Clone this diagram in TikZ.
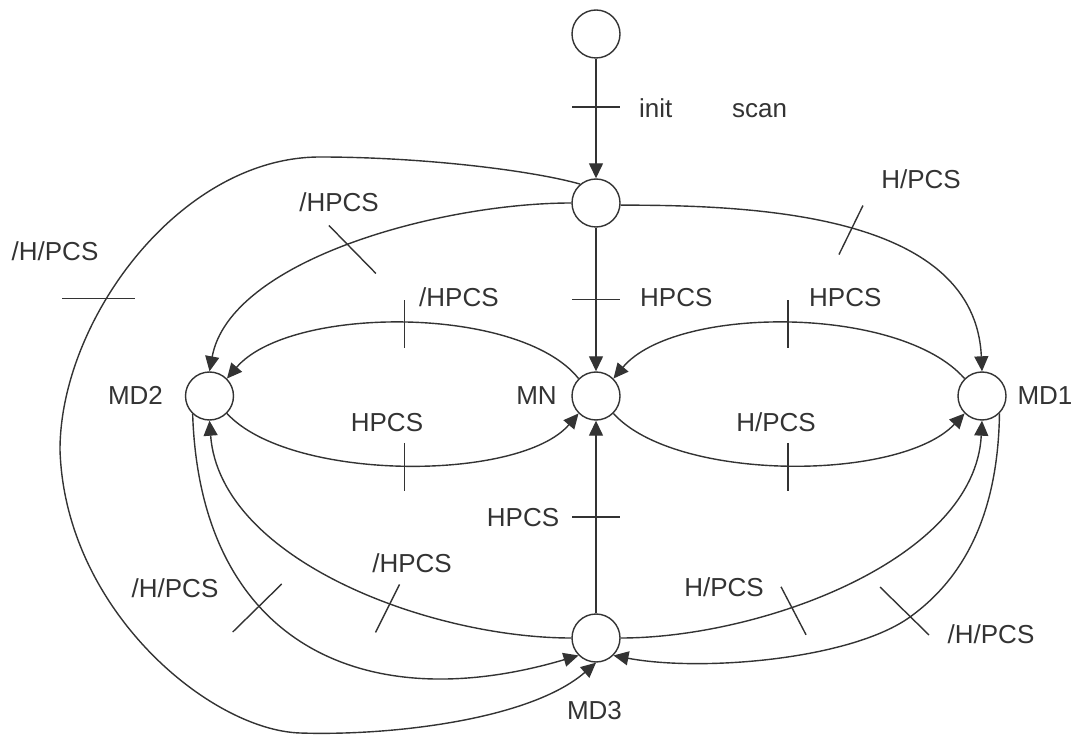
\documentclass[tikz,border=0pt]{standalone}
\usepackage{fontspec}
\setmainfont{Liberation Sans}
\usetikzlibrary{arrows.meta}
\definecolor{ink}{RGB}{51,51,51}
\newcommand\mytick[3]{\draw[tickline] ([shift={#2}]#1) -- ([shift={#3}]#1);}
\begin{document}
\begin{tikzpicture}[x=1pt,y=-1pt,
  st/.style={circle,draw=ink,line width=1.4pt,minimum size=48pt,inner sep=0pt},
  edge/.style={draw=ink,line width=1.4pt,-{Triangle[length=15pt,width=14pt]}},
  tickline/.style={draw=ink,line width=1.4pt},
  lbl/.style={inner sep=0pt,text=ink,font=\fontsize{26}{30}\selectfont,anchor=base},
]
\useasboundingbox (0,0) rectangle (1074,735);
% states
\node[st] (T) at (596,34) {};
\node[st] (S) at (596,203) {};
\node[st] (MN) at (596,396) {};
\node[st] (MD2) at (209.5,396) {};
\node[st] (MD1) at (982,396) {};
\node[st] (MD3) at (596,638) {};
% straight edges
\draw[edge] (T) -- coordinate[pos=0.405] (t1) (S);
\draw[edge] (S) -- coordinate[pos=0.5] (t2) (MN);
\draw[edge] (MD3) -- coordinate[pos=0.5] (t10) (MN);
% from scan state
\draw[edge] (S.180) .. controls (440,203) and (230,260) .. (MD2.north) coordinate[pos=0.5] (t3);
\draw[edge] (S.-5) .. controls (760,205) and (975,215) .. (MD1.north) coordinate[pos=0.5] (t4);
\draw[edge] (S.130) .. controls (530,170) and (420,157) .. (320,157)
   .. controls (180,157) and (60,320) .. (60,450) coordinate[pos=0.62] (t5)
   .. controls (65,610) and (210,730) .. (300,733)
   .. controls (390,736) and (530,720) .. (MD3.south);
% ellipses
\draw[edge] (MN.135) .. controls (520,305) and (290,305) .. (MD2.45) coordinate[pos=0.5] (t6);
\draw[edge] (MD2.-45) .. controls (290,482) and (520,482) .. (MN.-135) coordinate[pos=0.5] (t7);
\draw[edge] (MD1.135) .. controls (900,305) and (675,305) .. (MN.45) coordinate[pos=0.5] (t8);
\draw[edge] (MN.-45) .. controls (675,482) and (900,482) .. (MD1.-135) coordinate[pos=0.5] (t9);
% lower curves
\draw[edge] (MD3.west) .. controls (430,638) and (220,560) .. (MD2.south) coordinate[pos=0.39] (t11);
\draw[edge] (MD2.-133) .. controls (200,640) and (360,720) .. (MD3.-135) coordinate[pos=0.37] (t12);
\draw[edge] (MD3.east) .. controls (760,638) and (975,560) .. (MD1.south) coordinate[pos=0.37] (t13);
\draw[edge] (MD1.-45) .. controls (998,520) and (960,581) .. (910,617) coordinate (t14)
   .. controls (850,660) and (700,672) .. (MD3.-45);
% ticks
\mytick{t1}{(-24,0)}{(24,0)}
\mytick{t2}{(-24,0)}{(24,0)}
\mytick{t10}{(-24,0)}{(24,0)}
\mytick{t3}{(-20,-20)}{(27,28)}
\mytick{t4}{(12,-24)}{(-12,25)}
\mytick{t5}{(-44,0)}{(29,0)}
\mytick{t6}{(0,-23)}{(0,25)}
\mytick{t7}{(0,-22)}{(0,26)}
\mytick{t8}{(0,-23)}{(0,25)}
\mytick{t9}{(0,-22)}{(0,26)}
\mytick{t11}{(9,-19)}{(-15,29)}
\mytick{t12}{(23,-21)}{(-26,27)}
\mytick{t13}{(-11,-20)}{(14,28)}
\mytick{t14}{(-30,-30)}{(19,18)}
% labels
\node[lbl,anchor=base west] (linit) at (639,117.3) {init};
\node[lbl,anchor=base west] (lscan) at (732,117.3) {scan};
\node[lbl,anchor=base west] (l2) at (640,307) {HPCS};
\node[lbl] (l3) at (339,212) {/HPCS};
\node[lbl] (l4) at (921,189) {H/PCS};
\node[lbl] (l5) at (55,261) {/H/PCS};
\node[lbl,anchor=base west] (l6) at (419,307) {/HPCS};
\node[lbl] (l7) at (387,431) {HPCS};
\node[lbl,anchor=base west] (l8) at (809,307) {HPCS};
\node[lbl] (l9) at (776,431) {H/PCS};
\node[lbl] (l10) at (523,526) {HPCS};
\node[lbl] (l11) at (412,572) {/HPCS};
\node[lbl] (l12) at (175,597) {/H/PCS};
\node[lbl] (l13) at (724,596) {H/PCS};
\node[lbl] (l14) at (991,643) {/H/PCS};
\node[lbl] (nMD2) at (135.5,404) {MD2};
\node[lbl] (nMN) at (536.5,404) {MN};
\node[lbl] (nMD1) at (1045,404) {MD1};
\node[lbl] (nMD3) at (594.5,719) {MD3};
\end{tikzpicture}
\end{document}
